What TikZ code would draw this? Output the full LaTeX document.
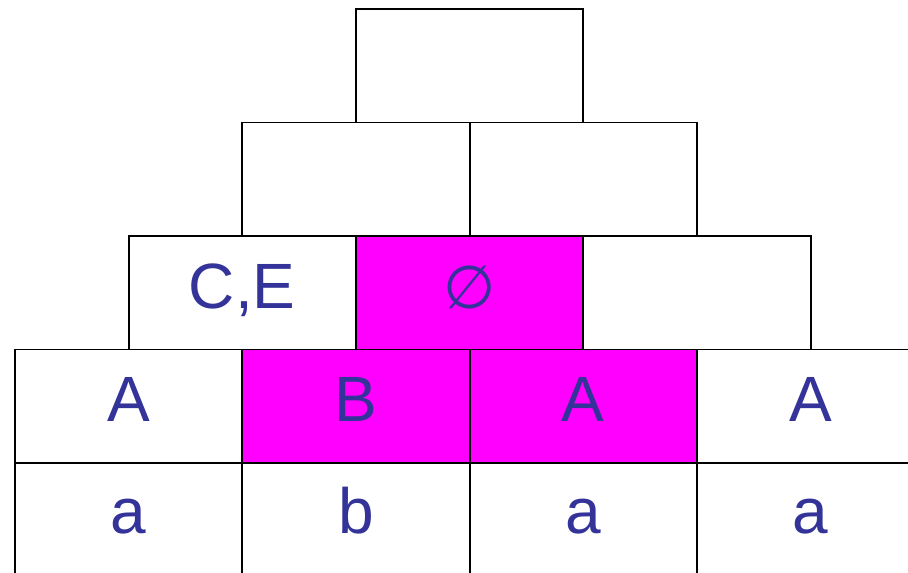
\documentclass[tikz,border=0pt]{standalone}
\usepackage{fontspec}
\setmainfont{Liberation Sans}
\newfontfamily\symfont{DejaVu Sans}
\definecolor{txtblue}{HTML}{333399}
\definecolor{mag}{HTML}{FF00FF}
\begin{document}
\begin{tikzpicture}[x=1pt,y=-1pt,
  cell/.style={draw=black,line width=1.9pt,fill=white,rectangle,minimum width=227.3pt,minimum height=113.5pt,inner sep=0pt,outer sep=0pt},
  hot/.style={cell,fill=mag},
  lbl/.style={text=txtblue,font=\fontsize{64}{70}\selectfont,anchor=base,inner sep=0pt}]
\useasboundingbox (0,0) rectangle (908,573);
\clip (0,0) rectangle (908,573);
% row 5 (bottom)
\node[cell] (r5a) at (128.65,519.75) {};
\node[cell] (r5b) at (355.95,519.75) {};
\node[cell] (r5c) at (583.25,519.75) {};
\node[cell] (r5d) at (810.55,519.75) {};
% row 4
\node[cell] (r4a) at (128.65,406.25) {};
\node[hot] (r4b) at (355.95,406.25) {};
\node[hot] (r4c) at (583.25,406.25) {};
\node[cell] (r4d) at (810.55,406.25) {};
% row 3
\node[cell] (r3a) at (242.3,292.75) {};
\node[hot] (r3b) at (469.6,292.75) {};
\node[cell] (r3c) at (696.9,292.75) {};
% row 2
\node[cell] (r2a) at (355.95,179.25) {};
\node[cell] (r2b) at (583.25,179.25) {};
% row 1
\node[cell] (r1a) at (469.6,65.75) {};
% labels
\node[lbl] (t5a) at (128.65,533) {a};
\node[lbl] (t5b) at (355.95,533) {b};
\node[lbl] (t5c) at (583.25,533) {a};
\node[lbl] (t5d) at (810.55,533) {a};
\node[lbl] (t4a) at (128.65,421) {A};
\node[lbl] (t4b) at (355.95,421) {B};
\node[lbl] (t4c) at (583.25,421) {A};
\node[lbl] (t4d) at (810.55,421) {A};
\node[lbl] (t3a) at (242.3,308) {C,E};
\node[lbl,font=\symfont\fontsize{60}{64}\selectfont] (t3b) at (469.6,308) {∅};
\end{tikzpicture}
\end{document}
